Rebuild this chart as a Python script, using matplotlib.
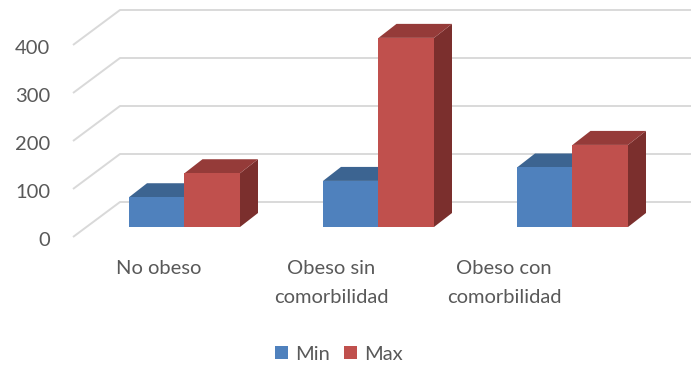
import numpy as np
import matplotlib.pyplot as plt
from matplotlib.patches import Polygon, Patch

categories = ['No obeso', 'Obeso sin\ncomorbilidad', 'Obeso con\ncomorbilidad']
series = ['Min', 'Max']
min_vals = [62, 96, 124]
max_vals = [112, 394, 171]
yticks = [0, 100, 200, 300, 400]

front = {'Min': '#4F81BD', 'Max': '#C0504D'}
top = {'Min': '#3C6491', 'Max': '#953B39'}
side = {'Min': '#325480', 'Max': '#7B2F2D'}
grid_c = '#D9D9D9'
text_c = '#595959'

plt.rcParams['font.family'] = ['Lato', 'DejaVu Sans']

W, H = 691, 366
PX = 0.48          # pixels per value unit
BASE = 227         # pixel row of the bar floor

def vy(py):
    return (BASE - py) / PX

fig = plt.figure(figsize=(W / 100, H / 100), dpi=100)
ax = fig.add_axes([0, 0, 1, 1])
ax.set_xlim(0, W)
ax.set_ylim(vy(H), vy(0))
ax.axis('off')

# walls: front edge offset and depth of the floor
front_off = vy(237)          # value 0 on front edge
back_off = vy(202)           # value 0 on back wall
for v in yticks:
    ax.plot([73, 120, W], [v + front_off, v + back_off, v + back_off],
            color=grid_c, lw=1.4, zorder=1, solid_capstyle='butt')
    ax.text(50, v + front_off - 3 / PX, str(v), ha='right', va='center',
            fontsize=14.5, color=text_c)

bw = 55.5
ddx, ddy = 18, 14 / PX
vals = {'Min': min_vals, 'Max': max_vals}
for i in range(len(categories)):
    for j, s in enumerate(series):
        v = vals[s][i]
        x0 = 129 + 194 * i + bw * j
        x1 = x0 + bw
        ax.add_patch(Polygon([(x1, 0), (x1 + ddx, ddy), (x1 + ddx, v + ddy), (x1, v)],
                             closed=True, fc=side[s], ec='none', zorder=2 + j))
        ax.add_patch(Polygon([(x0, v), (x1, v), (x1 + ddx, v + ddy), (x0 + ddx, v + ddy)],
                             closed=True, fc=top[s], ec='none', zorder=2 + j))
        ax.add_patch(Polygon([(x0, 0), (x1, 0), (x1, v), (x0, v)],
                             closed=True, fc=front[s], ec='none', zorder=2 + j))

for i, c in enumerate(categories):
    ax.text(159 + 172.5 * i, vy(260), c, ha='center', va='top',
            fontsize=14.5, color=text_c, linespacing=1.85)

handles = [Patch(fc=front[s], ec='none', label=s) for s in series]
fig.legend(handles=handles, loc='center', bbox_to_anchor=(339 / W, 1 - 354 / H),
           ncol=2, frameon=False, fontsize=14.5, labelcolor=text_c,
           handlelength=0.65, handleheight=0.65, handletextpad=0.35, columnspacing=0.7)

fig.savefig('out.png', dpi=100)
